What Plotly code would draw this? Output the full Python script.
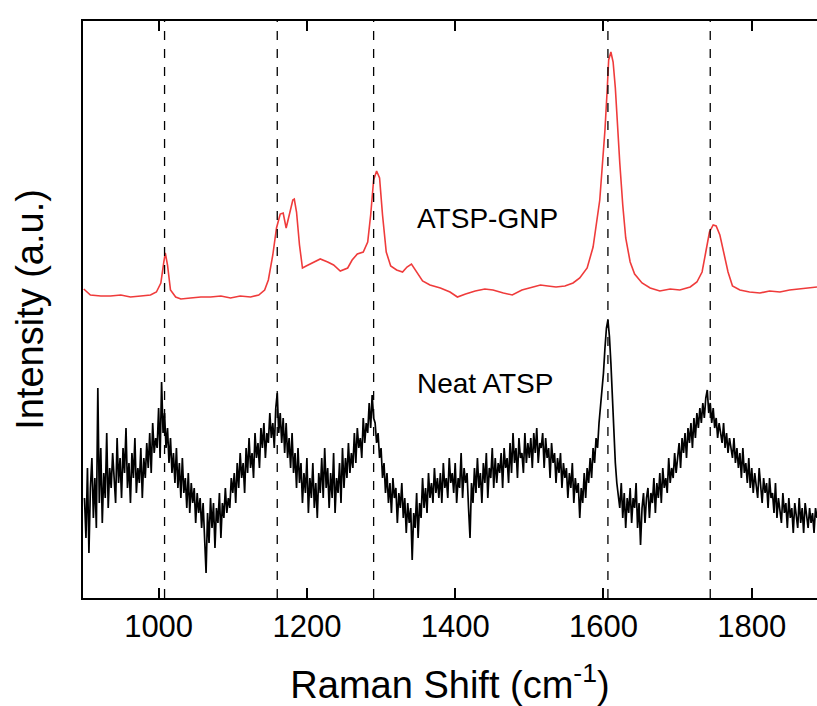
import plotly.graph_objects as go

# ATSP-GNP spectrum (wavenumber, intensity a.u.)
gnp_x = [899, 908, 922, 935, 949, 962, 976, 989, 997, 1003, 1007, 1009, 1012, 1016, 1023, 1030,
         1043, 1057, 1070, 1084, 1097, 1110, 1124, 1135, 1143, 1148, 1154, 1159, 1164, 1168, 1172,
         1176, 1181, 1183, 1186, 1190, 1194, 1199, 1209, 1218, 1228, 1236, 1245, 1255, 1261, 1268,
         1276, 1282, 1286, 1290, 1294, 1298, 1302, 1307, 1313, 1321, 1329, 1335, 1341, 1348, 1356,
         1366, 1380, 1393, 1403, 1414, 1427, 1440, 1451, 1465, 1477, 1490, 1504, 1515, 1525, 1536,
         1548, 1559, 1568, 1578, 1586, 1591, 1595, 1599, 1602, 1605, 1607, 1610, 1613, 1616, 1618,
         1622, 1626, 1630, 1636, 1642, 1652, 1663, 1676, 1690, 1703, 1717, 1726, 1733, 1738, 1743,
         1748, 1752, 1757, 1762, 1768, 1774, 1784, 1797, 1811, 1824, 1838, 1851, 1865, 1878, 1888]
gnp_y = [309, 303, 302, 302, 303, 301, 302, 303, 306, 315, 336, 345, 333, 308, 301, 299,
         300, 301, 301, 302, 300, 302, 301, 303, 308, 318, 343, 370, 384, 385, 370,
         383, 398, 399, 386, 353, 330, 332, 336, 339, 336, 333, 327, 330, 338, 344,
         346, 356, 383, 418, 427, 420, 383, 346, 332, 328, 326, 331, 334, 326, 317,
         313, 310, 306, 301, 304, 307, 309, 308, 305, 303, 308, 311, 313, 312, 311,
         312, 315, 320, 330, 351, 376, 398, 438, 468, 508, 538, 546, 536, 510, 483,
         435, 393, 360, 336, 324, 315, 310, 307, 309, 308, 311, 316, 326, 346, 366,
         373, 372, 363, 346, 326, 312, 308, 306, 305, 307, 306, 308, 309, 310, 311]

# Neat ATSP spectrum, sampled every 2 cm-1 from 900
neat_start, neat_step = 900, 2
neat_y = [100, 60, 130, 45, 110, 140, 80, 120, 70, 210, 95, 150, 75, 125, 100, 165, 90, 130, 110, 145,
          120, 95, 160, 115, 140, 100, 150, 125, 170, 110, 135, 95, 145, 120, 160, 105, 130, 115, 150, 100,
          140, 120, 155, 130, 165, 125, 175, 145, 160, 150, 190, 140, 216, 165, 185, 150, 170, 135, 160, 125,
          145, 115, 150, 110, 135, 100, 140, 105, 120, 90, 125, 85, 115, 95, 110, 75, 105, 85, 100, 70,
          95, 60, 25, 85, 55, 100, 70, 95, 50, 90, 75, 105, 60, 95, 80, 110, 85, 100, 90, 120,
          105, 125, 95, 135, 110, 145, 120, 135, 105, 150, 125, 160, 130, 145, 120, 165, 140, 155, 130, 170,
          150, 175, 140, 165, 155, 185, 160, 175, 150, 190, 205, 165, 185, 155, 180, 145, 175, 140, 160, 130,
          165, 125, 145, 110, 150, 115, 135, 95, 125, 105, 140, 85, 120, 100, 135, 90, 115, 80, 125, 105,
          140, 100, 150, 110, 130, 90, 125, 100, 145, 85, 120, 105, 135, 95, 150, 110, 140, 120, 155, 125,
          145, 130, 165, 135, 170, 150, 160, 140, 180, 155, 175, 165, 195, 170, 203, 180, 175, 155, 165, 140,
          150, 120, 135, 105, 125, 95, 115, 85, 120, 100, 110, 75, 105, 90, 115, 80, 100, 65, 95, 75,
          90, 38, 85, 70, 105, 60, 95, 80, 120, 90, 110, 85, 125, 100, 115, 95, 130, 105, 120, 100,
          125, 95, 135, 110, 120, 100, 140, 115, 125, 105, 135, 95, 120, 110, 145, 100, 130, 115, 125, 90,
          60, 115, 95, 130, 105, 140, 110, 125, 95, 135, 115, 145, 100, 130, 120, 150, 110, 140, 115, 135,
          125, 145, 110, 150, 130, 140, 115, 155, 125, 165, 135, 150, 120, 160, 140, 145, 125, 165, 135, 155,
          140, 160, 130, 165, 145, 170, 135, 155, 150, 165, 130, 160, 140, 150, 120, 155, 135, 145, 115, 140,
          125, 145, 110, 135, 120, 130, 100, 125, 110, 135, 95, 120, 105, 115, 80, 110, 95, 125, 100, 130,
          115, 140, 120, 150, 135, 160, 150, 175, 190, 205, 225, 250, 270, 278, 262, 235, 195, 160, 135, 115,
          105, 90, 115, 80, 105, 70, 100, 85, 110, 75, 100, 90, 115, 70, 95, 53, 90, 105, 75, 100,
          110, 80, 105, 95, 120, 85, 115, 100, 125, 95, 130, 110, 120, 105, 140, 115, 130, 120, 145, 125,
          140, 155, 130, 160, 145, 165, 140, 170, 155, 175, 150, 180, 160, 185, 170, 190, 175, 195, 180, 200,
          208, 185, 195, 175, 190, 170, 180, 160, 175, 165, 155, 175, 150, 165, 145, 160, 150, 140, 160, 135,
          150, 130, 145, 120, 150, 125, 135, 115, 140, 110, 130, 105, 125, 115, 100, 130, 110, 95, 120, 105,
          115, 90, 120, 100, 105, 85, 115, 80, 100, 90, 75, 105, 85, 95, 70, 100, 80, 90, 65, 95,
          85, 70, 100, 75, 90, 65, 95, 80, 70, 90, 75, 85, 65, 90, 80]
neat_x = [neat_start + neat_step * i for i in range(len(neat_y))]

peak_positions = [1008, 1160, 1290, 1606, 1744]
x_ticks = [1000, 1200, 1400, 1600, 1800]

FONT = "Liberation Sans, Arial, sans-serif"

fig = go.Figure()
fig.add_trace(go.Scatter(x=gnp_x, y=gnp_y, mode="lines",
                         line=dict(color="#ef3b3b", width=1.6), showlegend=False))
fig.add_trace(go.Scatter(x=neat_x, y=neat_y, mode="lines",
                         line=dict(color="black", width=1.7), showlegend=False))

for p in peak_positions:
    fig.add_shape(type="line", xref="x", yref="paper", x0=p, x1=p, y0=0, y1=1,
                  line=dict(color="black", width=1.3, dash="dash"), layer="above")

fig.add_annotation(x=1443, y=380, text="ATSP-GNP", showarrow=False,
                   font=dict(family=FONT, size=28, color="black"))
fig.add_annotation(x=1440, y=215, text="Neat ATSP", showarrow=False,
                   font=dict(family=FONT, size=28, color="black"))

fig.update_layout(
    width=817, height=706,
    margin=dict(l=83, r=0, t=21, b=108),
    paper_bgcolor="white", plot_bgcolor="white",
    font=dict(family=FONT, color="black"),
)
fig.update_xaxes(range=[898, 1888], tickvals=x_ticks, ticks="inside", ticklen=10,
                 tickwidth=1.5, tickcolor="black", showline=True, linecolor="black",
                 linewidth=2, mirror="ticks", showgrid=False, zeroline=False,
                 automargin=False,
                 tickfont=dict(size=31, family=FONT),
                 title=dict(text="Raman Shift (cm<sup>-1</sup>)", font=dict(size=38, family=FONT),
                            standoff=30))
fig.update_yaxes(range=[0, 577], showticklabels=False, ticks="", showline=True,
                 linecolor="black", linewidth=2, mirror=False, showgrid=False, zeroline=False,
                 automargin=False,
                 title=dict(text="Intensity (a.u.)", font=dict(size=38, family=FONT), standoff=26))

fig.write_html("out.html", config={"displayModeBar": False},
               post_script="document.body.style.margin='0';document.body.style.overflow='hidden';")
